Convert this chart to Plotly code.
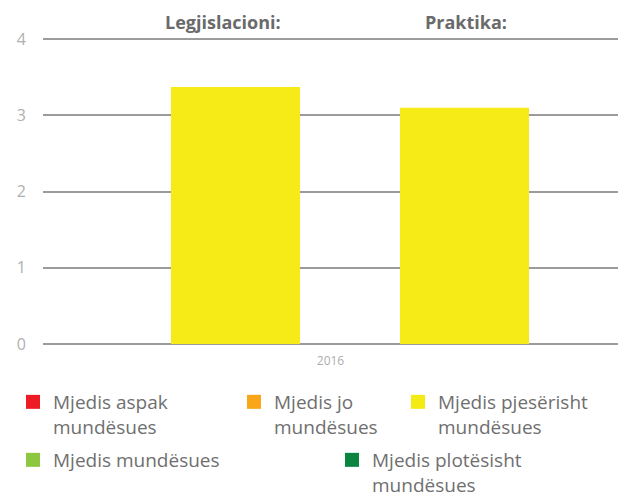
import plotly.graph_objects as go

# ---- data ----
categories = ["2016"]
series_names = ["Legjislacioni:", "Praktika:"]
legislation_values = [3.37]
practice_values = [3.1]
y_tick_values = [0, 1, 2, 3, 4]
y_tick_labels = ["0", "1", "2", "3", "4"]
legend_labels = [
    "Mjedis aspak<br>mundësues",
    "Mjedis jo<br>mundësues",
    "Mjedis pjesërisht<br>mundësues",
    "Mjedis mundësues",
    "Mjedis plotësisht<br>mundësues",
]
legend_colors = ["#ED1C24", "#F9A61A", "#F5EB14", "#8DC63F", "#0B8440"]
bar_color = "#F6EB16"

# ---- layout helpers (pixel -> paper) ----
W, H = 618, 496
L, R, T, B = 43, 0, 35, 152
PW, PH = W - L - R, H - T - B
Y_TOP = 4 + 4 / 76.0


def px(x):
    return (x - L) / PW


def py(y):
    return (H - B - y) / PH


FONT = "Open Sans"

fig = go.Figure()

fig.add_trace(go.Bar(x=categories, y=legislation_values, name=series_names[0],
                     marker=dict(color=bar_color, line=dict(width=0)),
                     width=0.2243, offset=-0.2774, showlegend=False, hoverinfo="y"))
fig.add_trace(go.Bar(x=categories, y=practice_values, name=series_names[1],
                     marker=dict(color=bar_color, line=dict(width=0)),
                     width=0.2243, offset=0.1209, showlegend=False, hoverinfo="y"))

legend_pos = [(13, 383), (234, 383), (398, 383), (13, 441), (332, 441)]
legend_keys = ["legend", "legend2", "legend3", "legend4", "legend5"]
legend_layouts = {}
for lab, col, key, (lx, ly) in zip(legend_labels, legend_colors, legend_keys, legend_pos):
    fig.add_trace(go.Scatter(x=[None], y=[None], mode="markers", name=lab,
                             marker=dict(symbol="square", size=14, color=col),
                             legend=key, showlegend=True))
    legend_layouts[key] = dict(x=px(lx), y=py(ly), xanchor="left", yanchor="top",
                               bgcolor="rgba(0,0,0,0)", borderwidth=0,
                               valign="top", itemclick=False, itemdoubleclick=False,
                               font=dict(family=FONT, size=19, color="#6f6f6f"))

title_centers = [223, 466]
annotations = []
for name, cx in zip(series_names, title_centers):
    annotations.append(dict(x=px(cx), y=py(22), xref="paper", yref="paper",
                            text="<b>" + name + "</b>", showarrow=False,
                            xanchor="center", yanchor="middle",
                            font=dict(family=FONT, size=18, color="#6a6a6a")))

fig.update_layout(
    width=W, height=H,
    margin=dict(l=L, r=R, t=T, b=B, pad=0, autoexpand=False),
    paper_bgcolor="white", plot_bgcolor="white",
    barmode="overlay",
    annotations=annotations,
    showlegend=True,
    **legend_layouts,
)

fig.update_xaxes(type="category", range=[-0.5, 0.5], showgrid=False, zeroline=False,
                 showline=False, ticks="", tickvals=categories, ticktext=categories,
                 ticklabelstandoff=8, automargin=False,
                 tickfont=dict(family=FONT, size=12, color="#adadad"))
fig.update_yaxes(range=[0, Y_TOP], tickvals=y_tick_values, ticktext=y_tick_labels,
                 showgrid=True, gridcolor="#9b9b9b", gridwidth=2,
                 zeroline=True, zerolinecolor="#9b9b9b", zerolinewidth=2,
                 showline=False, ticks="", ticklabelstandoff=16, automargin=False,
                 tickfont=dict(family=FONT, size=16, color="#b0b0b0"))

fig.write_html("out.html",
               config={"displayModeBar": False},
               post_script="document.body.style.margin='0px';document.body.style.overflow='hidden';")
